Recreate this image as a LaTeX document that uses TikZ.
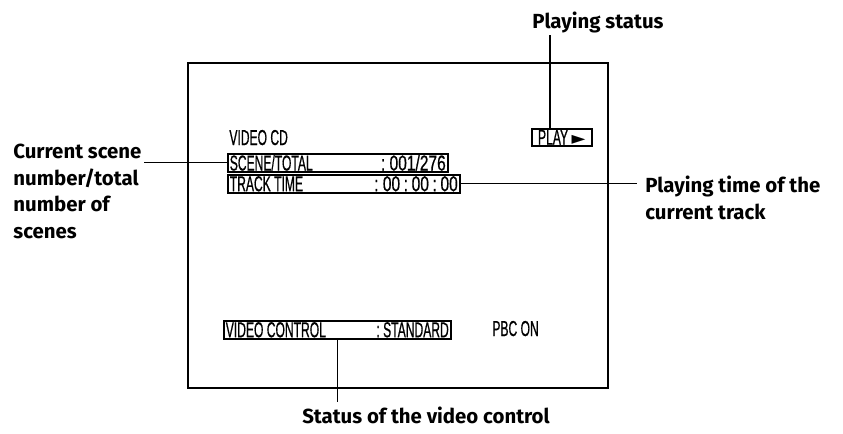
\documentclass[tikz,border=0pt]{standalone}
\usepackage{fontspec}
\setmainfont{Fira Sans}
\newfontfamily\osdfont[FakeStretch=0.56, FakeBold=0.6]{Liberation Sans}
\newfontfamily\osdnum[FakeStretch=0.72, FakeBold=0.6]{Liberation Sans}
\newfontfamily\symfont{DejaVu Sans}
\usepackage{tikz}
\usetikzlibrary{positioning, calc}
\tikzset{
  screen/.style={draw, line width=0.7pt},
  osdtext/.style={font=\osdfont\fontsize{10.8}{11}\selectfont, inner sep=0pt},
  osdbox/.style={draw, line width=0.8pt, font=\osdfont\fontsize{10.8}{11}\selectfont, inner xsep=1pt, inner ysep=0pt, minimum height=9pt, anchor=north west},
  callout/.style={font=\bfseries\fontsize{10.2}{13.2}\selectfont, align=left, inner sep=0pt},
  leader/.style={line width=0.6pt}
}
\newcommand{\osdrow}[3]{\makebox[#1][s]{#2\hfill#3}}

\begin{document}
\begin{tikzpicture}[x=0.5pt, y=-0.5pt]
        \useasboundingbox (0,0) rectangle (843,434);

        % Screen
        \draw[screen] (188,63) rectangle (608,388);

        % OSD lines
        \node[osdtext, anchor=base west] (vcd) at (229,145) {VIDEO CD};
        \node[osdbox] (scenebox) at (227,153) {\osdrow{108pt}{SCENE/TOTAL}{{\osdnum : 001/276}}};
        \node[osdbox] (trackbox) at (227,174) {\osdrow{114pt}{TRACK TIME}{{\osdnum : 00\,:\,00\,:\,00}}};
        \node[osdbox, minimum width=30pt, minimum height=8.5pt] (playbox) at (531,128) {PLAY\,{\symfont\fontsize{9}{9}\selectfont ►}};
        \node[osdbox] (vcbox) at (223,320) {\osdrow{111.5pt}{VIDEO CONTROL}{: STANDARD}};
        \node[osdtext, anchor=base west] (pbc) at (492,336) {PBC ON};

        % Callouts
        \node[callout, anchor=base] (playstat) at (598,28) {Playing status};
        \node[callout, anchor=north west] (playtime) at (645,176) {Playing time of the\\current track};
        \node[callout, anchor=north west] (curscene) at (13,144) {Current scene\\number/total\\number of\\scenes};
        \node[callout, anchor=base] (vcstat) at (426,423) {Status of the video control};

        % Leaders
        \coordinate (playtap) at ($(playbox.north west)+(19,0)$);
        \draw[leader] (playtap) -- ([yshift=-1pt]playtap |- playstat.south);
        \draw[leader] (trackbox.east) -- ([xshift=-4pt]trackbox.east -| playtime.west);
        \draw[leader] (scenebox.west) -- ([xshift=1pt]scenebox.west -| curscene.east);
        \draw[leader, shorten >=2pt] (vcbox.south) -- (vcbox.south |- vcstat.north);
    \end{tikzpicture}
\end{document}
